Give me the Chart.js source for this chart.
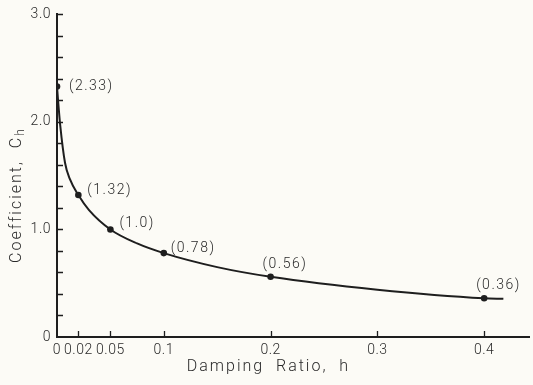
<!DOCTYPE html>
<html>
<head>
<meta charset="utf-8">
<script src="https://cdn.jsdelivr.net/npm/chart.js@4/dist/chart.umd.min.js"></script>
<style>
  html, body { margin: 0; padding: 0; background: #fcfbf6; }
  #wrap { width: 533px; height: 385px; position: relative; }
</style>
</head>
<body>
<div id="wrap"><canvas id="c"></canvas></div>
<script>
// ---- data ----
const dampingRatio = [0, 0.02, 0.05, 0.1, 0.2, 0.4];
const coefficient = [2.33, 1.32, 1.0, 0.78, 0.56, 0.36];
const pointLabels = ['(2.33)', '(1.32)', '(1.0)', '(0.78)', '(0.56)', '(0.36)'];

// smooth curve
const curveH = [0, 0.001, 0.003, 0.0075, 0.012, 0.02, 0.03, 0.05, 0.075, 0.1, 0.15, 0.2, 0.3, 0.4, 0.418];
const curveC = [2.33, 2.2, 1.97, 1.62, 1.47, 1.32, 1.18, 1.0, 0.87, 0.78, 0.65, 0.56, 0.44, 0.36, 0.355];

const xTickValues = [0, 0.02, 0.05, 0.1, 0.2, 0.3, 0.4];
const xTickLabels = ['0', '0.02', '0.05', '0.1', '0.2', '0.3', '0.4'];
const yTickValues = [0, 1, 2, 3];
const yTickLabels = ['0', '1.0', '2.0', '3.0'];
const yMinorTicks = [0.2, 0.4, 0.6, 0.8, 1.2, 1.4, 1.6, 1.8, 2.2, 2.4, 2.6, 2.8, 3.0];

const xTitle = 'Damping  Ratio,  h';
const yTitle = 'Coefficient,  C';
const yTitleSub = 'h';

// ---- styling ----
const INK = '#1e1e1e';
const TXT = '#2a2a2a';
const FONT = 'Roboto, "DejaVu Sans Condensed", sans-serif';
const labelOffsets = [[12, 0], [9, -5], [9, -6], [7, -5], [-8, -12], [-8, -13]];

const decor = {
  id: 'decor',
  beforeDraw(chart) { chart.ctx.letterSpacing = '0.5px'; },
  afterDraw(chart) {
    const ctx = chart.ctx;
    const xs = chart.scales.x, ys = chart.scales.y;
    const area = chart.chartArea;
    ctx.save();
    ctx.strokeStyle = INK;
    ctx.lineWidth = 1.3;
    ctx.beginPath();
    yMinorTicks.concat(yTickValues.filter(v => v > 0)).forEach(v => {
      const py = Math.round(ys.getPixelForValue(v)) + 0.5;
      ctx.moveTo(area.left, py);
      ctx.lineTo(area.left + 6, py);
    });
    xTickValues.filter(v => v > 0).forEach(v => {
      const px = Math.round(xs.getPixelForValue(v)) + 0.5;
      ctx.moveTo(px, area.bottom);
      ctx.lineTo(px, area.bottom - 6);
    });
    ctx.stroke();

    ctx.fillStyle = TXT;
    ctx.font = '300 14px ' + FONT;
    ctx.letterSpacing = '1.5px';
    ctx.textBaseline = 'middle';
    ctx.textAlign = 'left';
    dampingRatio.forEach((h, i) => {
      const px = xs.getPixelForValue(h), py = ys.getPixelForValue(coefficient[i]);
      ctx.fillText(pointLabels[i], px + labelOffsets[i][0], py + labelOffsets[i][1]);
    });

    ctx.font = '300 16px ' + FONT;
    ctx.letterSpacing = '2px';
    ctx.textAlign = 'center';
    ctx.textBaseline = 'middle';
    ctx.fillText(xTitle, xs.getPixelForValue(0.198), area.bottom + 30);

    ctx.save();
    ctx.translate(17, ys.getPixelForValue(1.32));
    ctx.rotate(-Math.PI / 2);
    ctx.font = '300 16px ' + FONT;
    const w1 = ctx.measureText(yTitle).width;
    ctx.font = '300 12px ' + FONT;
    const w2 = ctx.measureText(yTitleSub).width;
    const total = w1 + w2;
    ctx.textAlign = 'left';
    ctx.font = '300 16px ' + FONT;
    ctx.fillText(yTitle, -total / 2, 0);
    ctx.font = '300 12px ' + FONT;
    ctx.fillText(yTitleSub, -total / 2 + w1, 4);
    ctx.restore();

    ctx.restore();
  }
};

new Chart(document.getElementById('c'), {
  type: 'scatter',
  data: {
    datasets: [
      {
        data: curveH.map((h, i) => ({ x: h, y: curveC[i] })),
        showLine: true,
        borderColor: INK,
        borderWidth: 2,
        pointRadius: 0,
        cubicInterpolationMode: 'monotone',
        fill: false
      },
      {
        data: dampingRatio.map((h, i) => ({ x: h, y: coefficient[i] })),
        showLine: false,
        pointRadius: 3.3,
        pointBackgroundColor: INK,
        pointBorderColor: INK,
        pointBorderWidth: 0
      }
    ]
  },
  options: {
    responsive: true,
    maintainAspectRatio: false,
    animation: false,
    events: [],
    layout: { padding: { top: 14, left: 0, right: 0, bottom: 0 } },
    plugins: { legend: { display: false }, tooltip: { enabled: false } },
    scales: {
      x: {
        type: 'linear',
        min: 0,
        max: 0.442,
        afterBuildTicks: s => { s.ticks = xTickValues.map(v => ({ value: v })); },
        afterFit: s => { s.height = 48; },
        grid: { display: false, drawTicks: false },
        border: { display: true, color: INK, width: 2 },
        ticks: {
          autoSkip: false,
          maxRotation: 0,
          padding: 5,
          color: TXT,
          font: { family: FONT, size: 14, weight: '300' },
          callback: (v, i) => xTickLabels[i]
        }
      },
      y: {
        type: 'linear',
        min: 0,
        max: 3,
        afterBuildTicks: s => { s.ticks = yTickValues.map(v => ({ value: v })); },
        afterFit: s => { s.width = 57; },
        grid: { display: false, drawTicks: false },
        border: { display: true, color: INK, width: 2 },
        ticks: {
          padding: 6,
          color: TXT,
          font: { family: FONT, size: 14, weight: '300' },
          callback: (v, i) => yTickLabels[i]
        }
      }
    }
  },
  plugins: [decor]
});
</script>
</body>
</html>
